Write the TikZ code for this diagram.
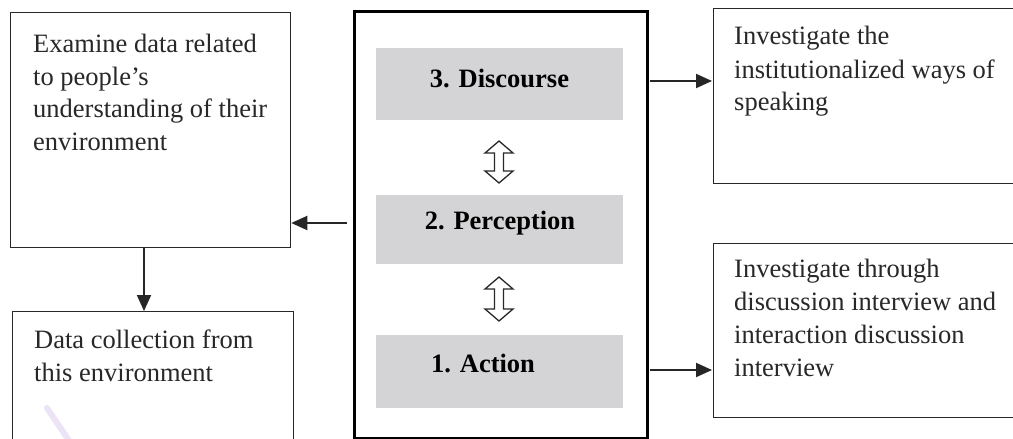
\documentclass[tikz,border=0pt]{standalone}
\usepackage{fontspec}
\setmainfont{Liberation Serif}
\usetikzlibrary{arrows.meta}

\definecolor{inkgray}{RGB}{40,40,40}
\definecolor{bandgray}{RGB}{212,212,214}
\definecolor{tinted}{RGB}{236,228,246}

\newcommand{\boxtext}[1]{\parbox[t]{300pt}{\raggedright #1}}
\newcommand{\bodyfont}{\fontsize{26.5}{33}\selectfont}

\tikzset{
  outline/.style={draw=inkgray, line width=1.3pt, fill=white, inner sep=0pt, anchor=north west},
  frame/.style={draw=black, line width=2.6pt, inner sep=0pt, anchor=north west},
  band/.style={fill=bandgray, inner sep=0pt, minimum width=247pt},
  txt/.style={anchor=base west, inner sep=0pt, text=inkgray, font=\bodyfont},
  stage/.style={inner sep=0pt, text=black, font=\bodyfont\bfseries},
  link/.style={draw=black!85, line width=2pt, -{Triangle[length=16pt,width=14pt]}},
  twoway/.style={draw=inkgray, line width=1.3pt, fill=white, line join=miter}
}

\begin{document}
\begin{tikzpicture}[x=1pt, y=-1pt]
  \clip (0,0) rectangle (1013,439);
  \fill[white] (0,0) rectangle (1013,439);

  % outer boxes
  \node[outline, minimum width=280pt, minimum height=235pt] (exam) at (10,12) {};
  \node[outline, minimum width=281pt, minimum height=150pt] (collect) at (12,311) {};
  \node[outline, minimum width=320pt, minimum height=175pt] (speak) at (713,8) {};
  \node[outline, minimum width=320pt, minimum height=174pt] (inter) at (713,243) {};

  % central stack
  \node[frame, minimum width=293pt, minimum height=427pt] (stack) at (353,10) {};
  \node[band, minimum height=72pt] (disc) at (499.5,84) {};
  \node[band, minimum height=69pt] (perc) at (499.5,229.5) {};
  \node[band, minimum height=73pt] (act) at (499.5,371.5) {};

  \node[stage, anchor=base] (disclbl) at (499.5,87) {3. Discourse};
  \node[stage, anchor=base] (perclbl) at (500,229) {2. Perception};
  \node[stage, anchor=base west] (actlbl) at (431,372) {1. Action};

  % two-way arrows between the stages
  \begin{scope}[shift={(499,162)}]
    \draw[twoway] (0,-21) -- (14,-9) -- (4.5,-9) -- (4.5,9) -- (14,9) -- (0,21)
      -- (-14,9) -- (-4.5,9) -- (-4.5,-9) -- (-14,-9) -- cycle;
  \end{scope}
  \begin{scope}[shift={(499,299)}]
    \draw[twoway] (0,-22) -- (14,-10) -- (4.5,-10) -- (4.5,10) -- (14,10) -- (0,22)
      -- (-14,10) -- (-4.5,10) -- (-4.5,-10) -- (-14,-10) -- cycle;
  \end{scope}

  % box texts
  \node[txt] (examtxt) at (33,52) {\boxtext{Examine data related\\to people’s\\understanding of their\\environment}};
  \node[txt] (collecttxt) at (34,348) {\boxtext{Data collection from\\this environment}};
  \node[txt] (speaktxt) at (734,45) {\boxtext{Investigate the\\institutionalized ways of\\speaking}};
  \node[txt] (intertxt) at (734,277) {\boxtext{Investigate through\\discussion interview and\\interaction discussion\\interview}};

  % connectors
  \coordinate (rowtop) at (0,81);
  \coordinate (rowmid) at (0,223);
  \coordinate (rowlow) at (0,370);
  \coordinate (coldown) at (144,0);

  \draw[link, shorten <=1.5pt, shorten >=1pt] (stack.east |- rowtop) -- (speak.west |- rowtop);
  \draw[link, shorten <=1.5pt, shorten >=1pt] (stack.east |- rowlow) -- (inter.west |- rowlow);
  \draw[link, shorten <=6pt] (stack.west |- rowmid) -- (exam.east |- rowmid);
  \draw[link] (exam.south -| coldown) -- (collect.north -| coldown);

  % faint mark in the lower left box
  \draw[tinted, line width=6pt, line cap=round] (47,408) -- (72,445);
\end{tikzpicture}
\end{document}
